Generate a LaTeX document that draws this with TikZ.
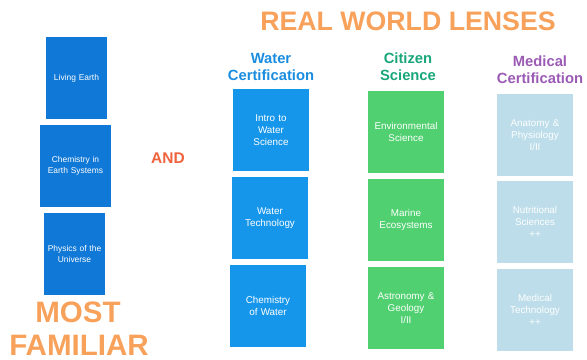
\documentclass[tikz,border=0pt]{standalone}
\usepackage{fontspec}
\setmainfont{Liberation Sans}
\usetikzlibrary{positioning}

\definecolor{famblue}{RGB}{16,120,214}
\definecolor{watblue}{RGB}{22,150,234}
\definecolor{citgreen}{RGB}{80,208,112}
\definecolor{medgray}{RGB}{188,221,233}
\definecolor{headorange}{RGB}{247,161,90}
\definecolor{andred}{RGB}{240,98,60}
\definecolor{watlabel}{RGB}{26,141,224}
\definecolor{citlabel}{RGB}{25,167,122}
\definecolor{medlabel}{RGB}{155,91,181}

\begin{document}
\begin{tikzpicture}[x=0.025cm, y=-0.025cm,
  course/.style={minimum width=1.9cm, minimum height=2.05cm, inner sep=1pt,
    text width=1.85cm, align=center, text=white, font=\fontsize{7}{8.5}\selectfont},
  familiar/.style={course, fill=famblue, minimum width=1.47cm, text width=1.43cm,
    font=\fontsize{6}{7.5}\selectfont},
  lens/.style={align=center, font=\bfseries\fontsize{10.5}{12}\selectfont},
  big/.style={text=headorange, font=\bfseries\fontsize{21}{23}\selectfont}]
\useasboundingbox (0,0) rectangle (587,360);
% most familiar
\node[familiar] (F1) at (76.5,78) {Living Earth};
\node[familiar, minimum width=1.73cm, text width=1.69cm] (F2) at (75.5,166) {Chemistry in\\Earth Systems};
\node[familiar] (F3) at (74.5,254) {Physics of the\\Universe};
\node[big] (MOST) at (78,312) {MOST};
\node[big] (FAM) at (79,345) {FAMILIAR};
\node[text=andred, font=\bfseries\fontsize{11}{13}\selectfont] (AND) at (168,158) {AND};
% real world lenses
\node[big, font=\bfseries\fontsize{19}{21}\selectfont] (REAL) at (408,21) {REAL WORLD LENSES};
\node[lens, text=watlabel] (WL) at (271,67) {Water\\Certification};
\node[lens, text=citlabel] (CL) at (408,67) {Citizen\\Science};
\node[lens, text=medlabel] (ML) at (540,70) {Medical\\Certification};
\node[course, fill=watblue] (W1) at (271,130) {Intro to\\Water\\Science};
\node[course, fill=watblue] (W2) at (270,218) {Water\\Technology};
\node[course, fill=watblue] (W3) at (268,306) {Chemistry\\of Water};
\node[course, fill=citgreen, minimum width=1.83cm] (C1) at (406,132) {Environmental\\Science};
\node[course, fill=citgreen, minimum width=1.83cm] (C2) at (406,220) {Marine\\Ecosystems};
\node[course, fill=citgreen, minimum width=1.83cm] (C3) at (406,308) {Astronomy \&\\Geology\\I/II};
\node[course, fill=medgray] (M1) at (535,135) {Anatomy \&\\Physiology\\I/II};
\node[course, fill=medgray] (M2) at (535,222) {Nutritional\\Sciences\\++};
\node[course, fill=medgray] (M3) at (535,310) {Medical\\Technology\\++};
\end{tikzpicture}
\end{document}
